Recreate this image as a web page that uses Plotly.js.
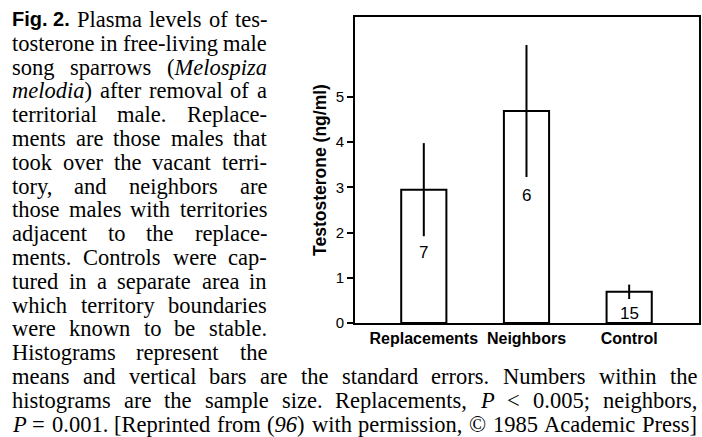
<!DOCTYPE html>
<html><head><meta charset="utf-8">
<script src="https://cdn.plot.ly/plotly-3.0.1.min.js"></script>
<style>html,body{margin:0;padding:0;background:#fff;} #chart{width:702px;height:437px;}</style>
</head><body><div id="chart"></div>
<script>
// ---- data ----
const categories = ['Replacements', 'Neighbors', 'Control'];
const meanTestosterone = [2.95, 4.69, 0.69];
const standardError = [1.03, 1.46, 0.16];
const sampleSize = ['7', '6', '15'];
const yTickVals = [0, 1, 2, 3, 4, 5];
const yTickText = ['0', '1', '2', '3', '4', '5'];
const captionLines = [
  '<b>Fig.\u00a02.</b> Plasma levels of tes-',
  'tosterone in free-living male',
  'song sparrows (<i>Melospiza</i>',
  '<i>melodia</i>) after removal of a',
  'territorial male. Replace-',
  'ments are those males that',
  'took over the vacant terri-',
  'tory, and neighbors are',
  'those males with territories',
  'adjacent to the replace-',
  'ments. Controls were cap-',
  'tured in a separate area in',
  'which territory boundaries',
  'were known to be stable.',
  'Histograms represent the',
  'means and vertical bars are the standard errors. Numbers within the',
  'histograms are the sample size. Replacements, <i>P</i> &lt; 0.005; neighbors,',
  '<i>P</i> = 0.001. [Reprinted from (<i>96</i>) with permission, \u00a9 1985 Academic Press]'
];

// ---- layout constants ----
const W = 702, H = 437, L = 355, T = 17, PW = 344, PH = 306;
const px2x = p => (p - L) / PW;
const py2y = p => (T + PH - p) / PH;
const labelY = [1.55, 2.83, 0.22];

const serif = 'Liberation Serif, Times New Roman, serif';
const sans = 'Liberation Sans, Arial, sans-serif';
const FS = 22.5;
const colLeft = 12, colRight = 267, fullRight = 697;
const base0 = 27, lineStep = 23.8;

const cv = document.createElement('canvas').getContext('2d');
function plain(s){ return s.replace(/<[^>]+>/g,'').replace(/&lt;/g,'<').replace(/&gt;/g,'>'); }
function measureToken(tok){
  if (tok.startsWith('<b>')) {
    cv.font = 'bold 20px "Liberation Sans"';
    return cv.measureText(plain(tok)).width;
  }
  let w = 0;
  const parts = tok.split(/(<i>.*?<\/i>)/);
  parts.forEach(p => {
    if (!p) return;
    if (p.startsWith('<i>')) cv.font = 'italic ' + FS + 'px "Liberation Serif"';
    else cv.font = FS + 'px "Liberation Serif"';
    w += cv.measureText(plain(p)).width;
  });
  return w;
}

const annotations = [];
captionLines.forEach((line, i) => {
  const right = i < 15 ? colRight : fullRight;
  const toks = line.split(' ');
  const widths = toks.map(measureToken);
  const total = widths.reduce((a,b)=>a+b,0);
  let gap = toks.length > 1 ? (right - colLeft - total) / (toks.length - 1) : 0;
  if (gap < 3) gap = 3;
  const baseline = base0 + i * lineStep;
  let x = colLeft;
  toks.forEach((tok, j) => {
    const bold = tok.startsWith('<b>');
    annotations.push({
      xref: 'paper', yref: 'paper', x: px2x(x), y: py2y(baseline - 0.3375 * FS),
      xanchor: 'left', yanchor: 'middle', showarrow: false,
      borderpad: 0, borderwidth: 0,
      text: bold ? plain(tok) : tok,
      font: bold ? {family: sans, size: 20, color: '#000', weight: 'bold'} : {family: serif, size: FS, color: '#000'}
    });
    x += widths[j] + gap;
  });
});

categories.forEach((c, i) => {
  annotations.push({
    xref: 'x', yref: 'y', x: c, y: labelY[i], text: sampleSize[i], showarrow: false,
    font: {family: sans, size: 17, color: '#000'}, bgcolor: 'rgba(0,0,0,0)'
  });
});

const trace = {
  type: 'bar', x: categories, y: meanTestosterone, width: 0.44,
  marker: {color: '#ffffff', line: {color: '#000', width: 2}},
  error_y: {type: 'data', array: standardError, visible: true, thickness: 2, width: 0, color: '#000'},
  hoverinfo: 'none'
};

const layout = {
  width: W, height: H, margin: {l: L, r: W - L - PW, t: T, b: H - T - PH, autoexpand: false},
  paper_bgcolor: '#fff', plot_bgcolor: '#fff', showlegend: false,
  xaxis: {
    type: 'category', range: [-0.67, 2.68], showgrid: false, zeroline: false,
    showline: true, linecolor: '#000', linewidth: 2, mirror: true, ticks: '',
    tickfont: {family: sans, size: 16, color: '#000', weight: 'bold'}, automargin: false
  },
  yaxis: {
    range: [0, 6.77], tickvals: yTickVals, ticktext: yTickText, showgrid: false, zeroline: false,
    showline: true, linecolor: '#000', linewidth: 2, mirror: true,
    ticks: 'outside', ticklen: 6, tickwidth: 2, tickcolor: '#000',
    tickfont: {family: 'Liberation Sans Narrow, Liberation Sans, sans-serif', size: 15, color: '#000'},
    title: {text: 'Testosterone (ng/ml)', font: {family: sans, size: 17.5, color: '#000', weight: 'bold'}, standoff: 5},
    automargin: false
  },
  annotations: annotations
};

Plotly.newPlot('chart', [trace], layout, {staticPlot: true, displayModeBar: false});
</script>
</body></html>
